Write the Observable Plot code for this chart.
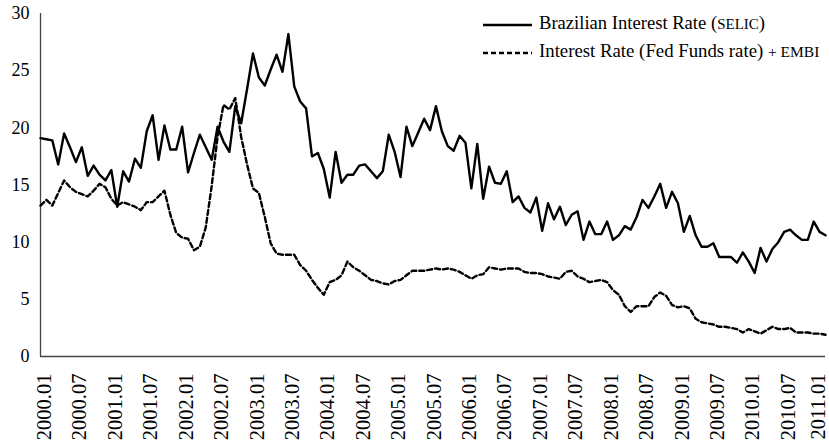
<!DOCTYPE html>
<html><head><meta charset="utf-8">
<script src="https://cdn.jsdelivr.net/npm/d3@7"></script>
<script src="https://cdn.jsdelivr.net/npm/@observablehq/plot@0.6"></script>
<style>body{margin:0;background:#fff}</style>
</head><body><div id="chart"></div>
<script>
// Monthly series, 2000.01 .. 2011.02
const selic = [
19.1,19.0,18.9,16.8,19.5,18.3,17.0,18.3,15.8,16.7,
15.9,15.4,16.3,13.1,16.2,15.3,17.3,16.5,19.7,21.1,
17.2,20.2,18.1,18.1,20.1,16.1,17.8,19.4,18.3,17.2,
20.1,18.8,17.9,21.9,20.4,23.4,26.5,24.4,23.7,25.1,
26.4,24.9,28.2,23.6,22.3,21.7,17.5,17.8,16.4,13.9,
17.9,15.2,15.9,15.9,16.7,16.8,16.2,15.6,16.2,19.4,
17.9,15.7,20.1,18.4,19.6,20.8,19.8,21.9,19.7,18.4,
18.0,19.3,18.7,14.7,18.6,13.8,16.6,15.2,15.1,16.2,
13.5,14.0,13.0,12.6,13.9,11.0,13.4,12.0,13.1,11.5,
12.4,12.7,10.2,11.8,10.7,10.7,11.8,10.2,10.6,11.4,
11.1,12.2,13.7,13.0,14.0,15.1,13.0,14.4,13.4,10.9,
12.3,10.6,9.6,9.6,9.9,8.7,8.7,8.7,8.2,9.1,
8.3,7.3,9.5,8.3,9.4,10.0,10.9,11.1,10.6,10.2,
10.2,11.8,10.9,10.6];
const fedEmbi = [
13.2,13.7,13.2,14.3,15.4,14.8,14.4,14.2,14.0,14.5,
15.1,14.8,13.8,13.2,13.5,13.3,13.1,12.8,13.5,13.5,
14.0,14.5,12.4,10.8,10.4,10.3,9.3,9.6,11.3,14.9,
19.2,22.0,21.6,22.6,19.2,16.8,14.7,14.3,12.2,9.9,
9.0,8.9,8.9,8.9,8.0,7.5,6.7,6.0,5.4,6.5,
6.7,7.1,8.3,7.8,7.5,7.1,6.7,6.6,6.4,6.3,
6.6,6.7,7.1,7.5,7.5,7.5,7.6,7.7,7.6,7.7,
7.6,7.4,7.1,6.8,7.1,7.2,7.8,7.7,7.6,7.7,
7.7,7.7,7.4,7.3,7.3,7.2,7.0,6.9,6.8,7.4,
7.5,7.0,6.8,6.5,6.6,6.7,6.5,5.8,5.4,4.4,
3.9,4.4,4.4,4.4,5.2,5.6,5.3,4.5,4.3,4.4,
4.2,3.3,3.0,2.9,2.8,2.6,2.6,2.5,2.4,2.1,
2.4,2.2,2.0,2.3,2.6,2.4,2.4,2.5,2.1,2.1,
2.1,2.0,2.0,1.9];
const tickLabels = ["2000.01","2000.07","2001.01","2001.07","2002.01","2002.07","2003.01","2003.07",
"2004.01","2004.07","2005.01","2005.07","2006.01","2006.07","2007.01","2007.07","2008.01","2008.07",
"2009.01","2009.07","2010.01","2010.07","2011.01"];
const tickMonths = tickLabels.map((_, k) => k * 6);
const yTicks = [0, 5, 10, 15, 20, 25, 30];
const seriesNames = ["Brazilian Interest Rate (", "SELIC", ")", "Interest Rate (Fed Funds rate) ", "+ EMBI"];

const font = "'Liberation Serif', 'Times New Roman', serif";
const last = tickMonths.length - 1;
const labelOpts = {x: d => d, text: d => tickLabels[d / 6], frameAnchor: "bottom", rotate: -90,
  textAnchor: "end", lineAnchor: "middle", dy: 17, fontSize: 20.5, fill: "#000"};
const chart = Plot.plot({
  width: 829, height: 442,
  marginLeft: 40, marginRight: 4, marginTop: 13, marginBottom: 86,
  style: {fontFamily: font, background: "#fff", color: "#000"},
  x: {domain: [0, selic.length - 1], label: null, axis: null},
  y: {domain: [0, 30], label: null},
  marks: [
    Plot.axisY({ticks: yTicks, tickSize: 0, tickPadding: 11, fontSize: 18, label: null}),
    Plot.text(tickMonths.slice(0, last), {...labelOpts, dx: 4}),
    Plot.text(tickMonths.slice(last), {...labelOpts, dx: -1.5}),
    Plot.ruleX([0], {stroke: "#444", strokeWidth: 1.3}),
    Plot.ruleY([0], {stroke: "#444", strokeWidth: 1.3}),
    Plot.line(fedEmbi, {x: (d, i) => i, y: d => d, stroke: "#000", strokeWidth: 2.4, strokeDasharray: "5,3"}),
    Plot.line(selic, {x: (d, i) => i, y: d => d, stroke: "#000", strokeWidth: 2.4})
  ]
});
document.getElementById("chart").appendChild(chart);

// legend
const svg = d3.select(chart);
const lg = svg.append("g").attr("font-family", font).attr("text-anchor", "start");
const items = [
  {y: 25, dash: null, parts: [[seriesNames[0], 18.6], [seriesNames[1], 15], [seriesNames[2], 18.6]]},
  {y: 53, dash: "5,3", parts: [[seriesNames[3], 18.8], [seriesNames[4], 15.5]]}
];
items.forEach(it => {
  lg.append("line").attr("x1", 483).attr("x2", 532).attr("y1", it.y).attr("y2", it.y)
    .attr("stroke", "#000").attr("stroke-width", 2.4).attr("stroke-dasharray", it.dash);
  const t = lg.append("text").attr("x", 539).attr("y", it.y).attr("dy", "0.35em").attr("fill", "#000");
  it.parts.forEach(([s, fs]) => t.append("tspan").attr("font-size", fs).text(s));
});
</script></body></html>
